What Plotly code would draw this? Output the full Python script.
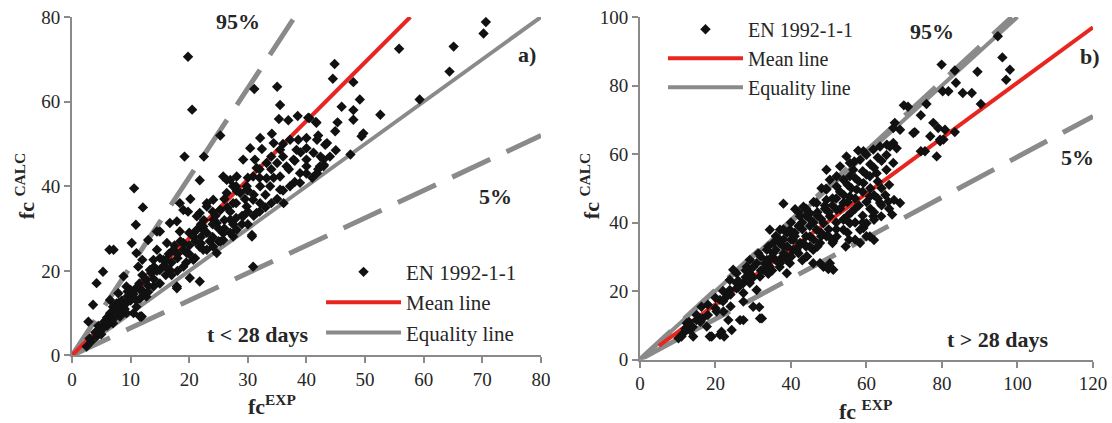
import plotly.graph_objects as go

# ---------------- data: panel a) t < 28 days ----------------
a_x = [19.8, 20.5, 31.1, 35.0, 55.8, 65.1, 70.6, 70.2, 64.4, 59.3, 52.6, 49.4, 49.7, 48.0, 48.0, 48.0, 46.0, 45.3,
       44.8, 44.5, 45.0, 47.5, 35.5, 35.3, 36.9, 38.5, 40.3, 41.7, 25.3, 19.2, 22.5, 21.8, 10.6, 12.1, 20.2, 49.1,
       44.9, 42.0, 43.2, 41.6, 40.5, 42.4, 42.9, 41.8, 30.9, 30.7,
       32.1, 34.1, 34.4, 30.4, 32.4, 31.2, 29.2, 31.5, 33.2, 35.5, 37.2, 38.6, 40.0, 41.8, 43.5, 38.3, 41.2, 42.9,
       42.3, 40.0, 40.0, 38.9, 37.8, 36.6, 35.5, 34.4, 33.2, 33.8, 35.5, 37.2, 38.9, 36.1, 32.1, 30.9, 29.8, 28.1,
       27.0, 25.8, 28.1, 26.4, 24.1, 23.0, 21.8, 25.3, 27.5, 29.8, 32.1, 31.5, 29.2, 27.0, 24.7, 22.4, 20.7, 25.8,
       28.1, 30.7, 25.3, 21.8, 19.6, 24.7,
       10.9, 6.4, 7.1, 10.2, 5.3, 4.2, 3.6, 2.8, 2.5, 3.3, 4.8, 5.9, 7.0, 7.9, 8.8, 9.3, 9.9, 11.0, 11.6, 11.9, 12.7,
       13.3, 13.9, 14.5, 14.5, 15.0, 16.7, 17.9, 19.0, 19.8, 18.4, 23.0, 21.3, 22.4, 24.1, 25.3, 26.4, 27.5, 28.7,
       29.8, 30.9, 27.5, 25.8, 24.1, 22.4, 20.7, 21.8, 20.1, 17.9, 16.7, 15.6, 17.3, 19.0, 20.7, 18.4, 16.2, 15.0,
       13.9, 12.7, 11.6, 10.5, 9.3, 8.2, 7.0, 7.6, 6.5, 5.3, 4.2, 11.9, 8.5, 9.5, 11.3, 12.0, 11.0, 13.0, 17.9, 11.8,
       3.0, 4.0, 4.5, 5.0, 5.5, 6.0, 6.0, 6.5, 7.0, 7.5, 8.0, 8.0, 8.5, 9.0, 9.5, 10.0, 10.0, 10.5, 11.0, 11.5, 12.0,
       12.0, 12.5, 13.0, 13.5, 14.0, 14.0, 14.5, 15.0, 15.5, 16.0, 16.0, 16.5, 17.0, 17.5, 18.0, 18.0, 18.5, 19.0,
       19.5, 20.0, 20.0, 21.0, 21.5, 22.0, 22.5, 23.0, 23.5, 24.0, 24.5, 25.0, 26.0, 26.5, 27.0, 27.5, 28.0, 29.0,
       29.5, 30.0, 30.0, 31.0, 32.0, 33.0, 34.0, 35.0, 36.0, 37.0, 38.0, 39.0, 40.0, 41.0, 42.0, 43.0, 44.0,
       15.0, 17.0, 19.0, 21.0, 23.0, 25.0, 27.0, 29.0, 31.0, 33.0, 35.0, 16.0, 18.0, 20.0, 22.0, 24.0, 26.0, 28.0,
       30.0, 32.0, 34.0, 36.0, 38.0, 40.0, 13.0, 11.0, 9.0, 7.0, 6.0, 5.0, 22.0, 24.0, 26.0, 28.0, 30.0, 32.0, 34.0,
       36.0]
a_y = [70.6, 58.1, 63.0, 63.5, 72.5, 73.0, 78.8, 76.1, 67.1, 60.5, 56.9, 51.8, 52.5, 55.7, 58.0, 64.6, 58.8, 55.1,
       68.9, 65.4, 48.5, 47.5, 59.2, 55.9, 55.6, 56.6, 56.2, 55.0, 52.0, 47.0, 47.0, 41.4, 39.5, 35.0, 37.0, 60.5,
       53.0, 52.0, 49.8, 55.2, 56.1, 47.0, 44.7, 43.1, 21.0, 28.1,
       51.4, 52.4, 50.2, 49.0, 48.8, 46.3, 46.3, 44.3, 45.5, 48.6, 51.0, 51.0, 51.4, 51.0, 50.2, 48.6, 47.9, 46.3,
       44.7, 46.3, 44.7, 43.1, 46.3, 44.7, 42.3, 42.0, 41.9, 40.0, 39.2, 40.0, 40.8, 36.0, 40.0, 42.3, 39.2, 42.3,
       41.5, 42.3, 38.9, 38.4, 36.8, 35.2, 33.7, 34.4, 36.0, 35.2, 36.0, 33.7, 32.9, 32.1, 31.3, 29.7, 28.9, 28.9,
       29.7, 28.5, 26.9, 25.7, 24.2, 24.2,
       30.9, 25.0, 25.0, 26.6, 19.8, 17.1, 12.0, 8.0, 2.1, 3.3, 6.0, 8.4, 11.5, 14.7, 18.7, 16.3, 13.1, 11.5, 9.2,
       15.5, 17.9, 20.2, 22.6, 25.0, 29.3, 29.3, 31.3, 31.7, 34.4, 34.0, 36.0, 36.0, 32.9, 30.5, 32.1, 34.4, 41.5,
       40.0, 38.4, 40.0, 36.8, 28.1, 27.3, 25.7, 25.0, 22.6, 17.5, 18.3, 16.3, 20.2, 22.6, 25.0, 26.6, 28.1, 29.3,
       26.6, 20.2, 16.3, 13.9, 13.4, 10.0, 10.0, 9.2, 7.6, 12.3, 13.1, 6.8, 4.5, 9.2, 11.1, 15.1, 21.0, 22.6, 24.2,
       27.3, 15.9, 9.2,
       4.0, 5.5, 7.0, 6.0, 8.0, 9.0, 7.0, 10.0, 9.0, 11.0, 10.0, 12.5, 13.0, 12.0, 14.0, 13.0, 15.5, 14.5, 16.0,
       17.0, 15.0, 19.0, 18.0, 16.5, 19.5, 18.0, 21.0, 20.0, 23.0, 21.0, 22.5, 19.0, 24.0, 22.0, 26.0, 24.0, 20.0,
       27.0, 25.0, 22.0, 26.0, 29.0, 27.0, 30.0, 28.0, 32.0, 29.0, 27.0, 31.0, 33.0, 30.0, 32.0, 35.0, 34.0, 31.0,
       36.0, 33.0, 37.0, 34.0, 39.0, 38.0, 42.0, 38.0, 44.0, 45.5, 47.0, 44.0, 46.0, 48.0, 49.0, 42.0, 44.0, 45.0,
       47.0,
       17.0, 19.0, 21.0, 23.0, 25.0, 27.0, 29.0, 31.0, 33.0, 35.0, 37.0, 21.0, 23.0, 24.0, 26.5, 28.0, 30.0, 32.5,
       31.0, 34.0, 36.0, 39.0, 41.0, 43.0, 15.0, 13.0, 11.0, 8.5, 7.5, 5.0, 31.0, 34.0, 37.0, 40.0, 42.0, 44.0, 47.0,
       50.0]

a_equal_x = [0, 80]
a_equal_y = [0, 80]
a_mean_x = [0, 57.7]
a_mean_y = [0, 80]
a_p95_x = [0, 38]
a_p95_y = [0, 80]
a_p5_x = [0, 80]
a_p5_y = [0, 52]

# ---------------- data: panel b) t > 28 days ----------------
b_x = [10.2, 11.5, 13.2, 14.1, 12.4, 15.0, 16.3, 17.7, 19.0, 21.2, 21.6, 16.6, 20.3, 22.1, 23.4, 24.3, 21.2, 23.0,
       24.0, 26.5, 27.4, 27.4, 30.0, 31.8, 23.8, 25.6, 23.8, 25.6, 24.7, 27.4, 27.4, 29.1, 29.1, 28.3, 30.9, 31.8,
       32.7, 30.9, 33.6, 34.4, 35.3, 37.1, 38.9, 38.0, 39.7, 40.6, 42.4, 44.2, 45.9, 48.6, 49.9, 45.9, 47.7, 49.4,
       51.2, 37.1, 38.9, 35.3, 33.6, 31.4, 29.1, 25.6,
       51.2, 32.3, 31.6, 62.0, 59.2, 63.9, 66.8, 62.0, 60.0, 58.3, 54.5, 55.4, 11.0, 18.5, 22.3,
       38.0, 41.1, 48.1, 55.6, 57.8, 58.3, 60.0, 61.8, 63.6, 65.4, 67.1, 68.0, 67.1, 65.3, 62.7, 60.9, 59.2, 57.4,
       55.6, 53.9, 52.1, 50.3, 48.6, 46.8, 45.0, 43.3, 41.5, 39.7, 37.1, 34.4, 34.4, 37.1, 39.7, 42.4, 45.0, 43.3,
       46.8, 49.4, 49.4, 52.1, 53.9, 55.6, 56.5, 52.1, 50.3, 53.0, 54.7, 49.4, 60.9, 63.6, 65.8, 68.9, 61.8, 60.0,
       60.9, 58.3, 55.6, 53.9, 52.1, 53.9, 50.3, 49.9, 72.4, 78.6, 79.5, 76.9, 47.7, 44.2, 40.6, 38.0,
       94.8, 96.0, 98.0, 97.0, 89.4, 79.9, 83.4, 83.7, 80.2, 81.7, 85.5, 87.9, 90.3, 69.9, 75.9, 74.4, 67.5, 67.1,
       68.9, 72.8, 77.7, 79.0, 80.8, 83.4, 79.5, 80.4, 75.5, 66.2, 65.3,
       71.0, 59.2, 56.8, 49.3, 74.4, 67.3,
       33.0, 35.0, 36.0, 38.0, 39.0, 40.0, 41.0, 42.0, 43.0, 44.0, 45.0, 46.0, 47.0, 48.0, 49.0, 50.0, 51.0, 52.0,
       53.0, 54.0, 55.0, 56.0, 57.0, 58.0, 59.0, 60.0, 61.0, 62.0, 63.0, 64.0, 36.0, 38.0, 40.0, 42.0, 44.0, 46.0,
       37.0, 34.0, 32.0, 30.0, 28.0, 26.0, 24.0, 22.0, 20.0, 18.0, 16.0, 14.0, 12.0, 45.0, 48.0, 50.0, 52.0, 55.0,
       57.0,
       40.0, 42.0, 44.0, 46.0, 48.0, 50.0, 52.0, 54.0, 56.0, 58.0, 60.0, 62.0, 64.0, 66.0, 43.0, 47.0, 51.0, 55.0,
       57.0, 59.0, 61.0, 63.0, 65.0, 35.0, 37.0, 39.0, 41.0, 43.0, 45.0, 47.0, 49.0, 51.0, 53.0, 55.0, 57.0, 59.0,
       61.0, 63.0, 30.0, 32.0, 34.0, 36.0, 38.0, 40.0, 42.0, 44.0, 26.0, 28.0, 22.0, 20.0, 18.0, 15.0, 13.0, 57.0,
       59.0, 62.0, 64.0, 66.0]
b_y = [6.2, 7.7, 8.6, 6.7, 10.6, 11.5, 15.4, 9.6, 6.7, 7.2, 8.1, 12.0, 14.0, 14.0, 11.5, 8.6, 17.4, 18.4,
       15.5, 11.5, 11.5, 16.9, 15.4, 12.0, 20.3, 20.8, 23.2, 25.2, 26.2, 22.3, 19.4, 22.3, 25.2, 27.1, 20.3, 24.2,
       26.2, 28.1, 29.1, 27.1, 31.1, 29.1, 25.2, 30.1, 28.1, 32.0, 34.0, 30.1, 28.1, 27.1, 26.4, 32.0, 34.0, 36.0,
       34.5, 34.9, 36.9, 34.0, 32.0, 31.0, 29.1, 22.3,
       26.2, 12.0, 15.3, 34.9, 38.4, 41.8, 42.3, 40.8, 36.0, 34.0, 33.0, 35.0, 6.7, 6.7, 6.7,
       45.5, 43.9, 50.0, 57.4, 61.0, 58.3, 59.8, 61.3, 62.2, 62.7, 63.2, 61.7, 57.4, 55.4, 54.4, 53.5, 51.5, 49.6,
       47.6, 45.7, 43.7, 41.8, 39.8, 37.9, 35.9, 33.9, 32.0, 30.1, 28.1, 29.1, 37.9, 37.9, 37.9, 41.8, 42.7, 44.6,
       45.7, 46.6, 49.6, 50.5, 52.5, 53.5, 55.4, 53.5, 52.5, 56.4, 59.3, 55.4, 47.6, 45.7, 46.1, 45.7, 41.8, 39.8,
       35.9, 37.9, 39.8, 37.9, 35.9, 40.8, 28.1, 26.7, 66.1, 59.3, 64.2, 65.2, 28.1, 30.1, 34.9, 33.0,
       94.4, 88.2, 84.6, 81.7, 84.0, 86.1, 84.4, 80.8, 78.3, 78.3, 77.8, 77.8, 74.6, 74.2, 74.6, 71.3, 69.1, 67.6,
       67.1, 66.4, 69.1, 67.6, 67.1, 66.4, 63.7, 64.2, 60.8, 62.2, 59.7,
       73.8, 60.8, 57.8, 49.9, 60.8, 46.6,
       28.0, 30.0, 32.0, 31.0, 33.0, 35.0, 36.0, 33.0, 38.0, 36.0, 39.0, 40.0, 42.0, 41.0, 44.0, 43.0, 45.0, 47.0,
       44.0, 48.0, 46.0, 50.0, 47.0, 52.0, 49.0, 54.0, 50.0, 56.0, 52.0, 58.0, 36.0, 38.0, 40.0, 43.0, 44.0, 46.0,
       34.0, 33.0, 30.0, 27.0, 24.0, 21.0, 19.0, 17.0, 15.0, 13.0, 11.0, 9.5, 9.0, 33.0, 36.0, 38.0, 40.0, 42.0,
       44.0,
       30.0, 31.0, 33.0, 35.0, 37.0, 36.0, 38.0, 41.0, 43.0, 45.0, 46.0, 48.0, 50.0, 51.0, 29.0, 33.0, 34.0, 37.0,
       40.0, 42.0, 44.0, 47.0, 48.0, 26.0, 27.0, 29.0, 37.0, 40.0, 41.0, 43.0, 45.0, 47.0, 49.0, 51.0, 53.0, 55.0,
       57.0, 59.0, 24.0, 26.0, 25.0, 29.0, 35.0, 37.0, 39.0, 42.0, 23.0, 26.0, 20.0, 18.0, 16.0, 13.0, 11.0, 35.0,
       40.0, 43.0, 45.0, 44.0]

b_equal_x = [0, 100]
b_equal_y = [0, 100]
b_mean_x = [5, 120]
b_mean_y = [4, 97]
b_p95_x = [0, 98.5]
b_p95_y = [0, 100]
b_p5_x = [0, 120]
b_p5_y = [0, 71]

# ---------------- style ----------------
SERIF = "Liberation Serif"
GRAY = "#8a8a8a"
RED = "#e8261f"
BLACK = "#111111"
TXT = "#262626"
DASH = "42px,18px"

fig = go.Figure()


def add_panel(xa, ya, legend, sx, sy, eqx, eqy, mx, my, p95x, p95y, p5x, p5y):
    fig.add_trace(go.Scatter(x=p95x, y=p95y, mode="lines", xaxis=xa, yaxis=ya, showlegend=False,
                             line=dict(color=GRAY, width=5, dash=DASH), hoverinfo="skip"))
    fig.add_trace(go.Scatter(x=p5x, y=p5y, mode="lines", xaxis=xa, yaxis=ya, showlegend=False,
                             line=dict(color=GRAY, width=5, dash=DASH), hoverinfo="skip"))
    fig.add_trace(go.Scatter(x=eqx, y=eqy, mode="lines", xaxis=xa, yaxis=ya, name="Equality line",
                             legend=legend, legendrank=3, line=dict(color=GRAY, width=4)))
    fig.add_trace(go.Scatter(x=mx, y=my, mode="lines", xaxis=xa, yaxis=ya, name="Mean line",
                             legend=legend, legendrank=2, line=dict(color=RED, width=4)))
    fig.add_trace(go.Scatter(x=sx, y=sy, mode="markers", xaxis=xa, yaxis=ya, name="EN 1992-1-1",
                             legend=legend, legendrank=1,
                             marker=dict(symbol="diamond", size=8, color=BLACK, line=dict(width=0))))


add_panel("x", "y", "legend", a_x, a_y, a_equal_x, a_equal_y, a_mean_x, a_mean_y,
          a_p95_x, a_p95_y, a_p5_x, a_p5_y)
add_panel("x2", "y2", "legend2", b_x, b_y, b_equal_x, b_equal_y, b_mean_x, b_mean_y,
          b_p95_x, b_p95_y, b_p5_x, b_p5_y)

axis_style = dict(showgrid=False, zeroline=False, showline=True, linecolor=GRAY, linewidth=2,
                  ticks="outside", ticklen=6, tickwidth=2, tickcolor=GRAY, automargin=False,
                  tickfont=dict(family=SERIF, size=19, color=TXT), fixedrange=True)

fig.update_layout(
    width=1112, height=423, autosize=False,
    margin=dict(l=0, r=0, t=0, b=0, pad=0, autoexpand=False),
    paper_bgcolor="white", plot_bgcolor="white",
    xaxis=dict(domain=[0.0647, 0.4865], range=[0, 80], tickvals=[0, 10, 20, 30, 40, 50, 60, 70, 80],
               anchor="y", **axis_style),
    yaxis=dict(domain=[0.1596, 0.9598], range=[0, 80], tickvals=[0, 20, 40, 60, 80],
               anchor="x", **axis_style),
    xaxis2=dict(domain=[0.5755, 0.9829], range=[0, 120], tickvals=[0, 20, 40, 60, 80, 100, 120],
                anchor="y2", **axis_style),
    yaxis2=dict(domain=[0.1501, 0.9598], range=[0, 100], tickvals=[0, 20, 40, 60, 80, 100],
                anchor="x2", **axis_style),
    legend=dict(x=0.2887, y=0.405, xanchor="left", yanchor="top", bgcolor="rgba(0,0,0,0)",
                font=dict(family=SERIF, size=21, color=TXT), itemwidth=75, tracegroupgap=0),
    legend2=dict(x=0.5962, y=0.977, xanchor="left", yanchor="top", bgcolor="rgba(0,0,0,0)",
                 font=dict(family=SERIF, size=20, color=TXT), itemwidth=75, tracegroupgap=0),
)

bold = dict(family=SERIF, size=22, color=TXT)
notes = [
    ("x", "y", 28.3, 78.9, "<b>95%</b>"),
    ("x", "y", 72.2, 37.5, "<b>5%</b>"),
    ("x", "y", 77.6, 71.1, "<b>a)</b>"),
    ("x", "y", 31.7, 4.9, "<b>t &lt; 28 days</b>"),
    ("x2", "y2", 77.4, 95.8, "<b>95%</b>"),
    ("x2", "y2", 116.0, 58.9, "<b>5%</b>"),
    ("x2", "y2", 119.2, 88.5, "<b>b)</b>"),
    ("x2", "y2", 94.8, 5.7, "<b>t &gt; 28 days</b>"),
]
for xr, yr, xv, yv, t in notes:
    fig.add_annotation(x=xv, y=yv, xref=xr, yref=yr, text=t, showarrow=False, font=bold,
                       xanchor="center", yanchor="middle")

titles = [
    (0.2446, 0.0426, "<b>fc<sup>EXP</sup></b>", 0),
    (0.7779, 0.0307, "<b>fc <sup>EXP</sup></b>", 0),
    (0.0225, 0.560, "<b>fc <sup>CALC</sup></b>", -90),
    (0.5306, 0.560, "<b>fc <sup>CALC</sup></b>", -90),
]
for xv, yv, t, ang in titles:
    fig.add_annotation(x=xv, y=yv, xref="paper", yref="paper", text=t, showarrow=False,
                       font=dict(family=SERIF, size=22, color=TXT), textangle=ang,
                       xanchor="center", yanchor="middle")

fig.write_html("out.html")
